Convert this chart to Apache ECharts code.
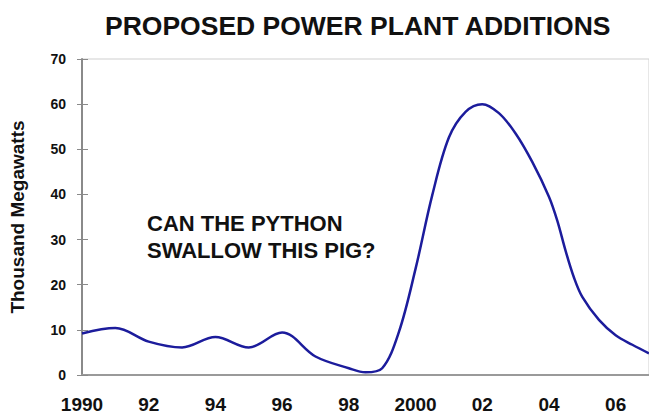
<!DOCTYPE html>
<html>
<head>
<meta charset="utf-8">
<script src="https://cdn.jsdelivr.net/npm/echarts@6/dist/echarts.min.js"></script>
<style>
html,body{margin:0;padding:0;background:#fff;}
#chart{width:649px;height:416px;}
</style>
</head>
<body>
<div id="chart"></div>
<script>
const titleText = 'PROPOSED POWER PLANT ADDITIONS';
const yAxisName = 'Thousand Megawatts';
const noteLines = ['CAN THE PYTHON', 'SWALLOW THIS PIG?'];
const years = [1990,1991,1992,1993,1994,1995,1996,1997,1998,1998.5,1999,1999.5,2000,2000.5,2001,2001.5,2002,2002.5,2003,2003.5,2004,2004.25,2004.5,2004.75,2005,2005.5,2006,2006.5,2007];
const megawatts = [9.2,10.4,7.4,6.1,8.4,6.1,9.4,4.1,1.5,0.6,1.5,9.5,23.5,39.8,52.6,58.3,60,58,53.5,47.2,39.5,34.2,27.5,21.6,17.3,12.2,8.8,6.7,4.8];
const yTicks = [0,10,20,30,40,50,60,70];

const chart = echarts.init(document.getElementById('chart'), null, {renderer:'svg'});
const font = '"Liberation Sans", Arial, sans-serif';
chart.setOption({
  animation:false,
  backgroundColor:'#fff',
  title:{
    text:titleText, left:100, top:7,
    textStyle:{fontFamily:font, fontSize:26.5, fontWeight:'bold', color:'#111'}
  },
  grid:{left:80, right:-5, top:59, bottom:41, show:true, borderColor:'#cfcfcf', borderWidth:1},
  xAxis:{
    type:'value', min:1990, max:2007, interval:2,
    axisLine:{show:true, onZero:false, lineStyle:{color:'#9a9a9a', width:2}},
    axisTick:{show:false},
    splitLine:{show:false},
    axisLabel:{
      margin:20, showMaxLabel:false,
      fontFamily:font, fontSize:19, fontWeight:'bold', color:'#111',
      formatter:v => (v===1990||v===2000) ? String(v) : String(v%100).padStart(2,'0')
    }
  },
  yAxis:[{
    type:'value', min:yTicks[0], max:yTicks[yTicks.length-1], interval:10,
    name:yAxisName, nameLocation:'middle', nameGap:55, nameRotate:90,
    nameTextStyle:{fontFamily:font, fontSize:19, fontWeight:'bold', color:'#111'},
    axisLine:{show:true, lineStyle:{color:'#8a8a8a', width:2}},
    axisTick:{show:true, length:5, lineStyle:{color:'#8a8a8a', width:1}},
    splitLine:{show:false},
    axisLabel:{margin:16, fontFamily:font, fontSize:14, fontWeight:'bold', color:'#111'}
  },{
    type:'value', min:yTicks[0], max:yTicks[yTicks.length-1], interval:10, position:'left',
    axisLine:{show:false},
    axisTick:{show:true, inside:true, length:6, lineStyle:{color:'#8a8a8a', width:1}},
    axisLabel:{show:false}, splitLine:{show:false}
  }],
  graphic:[{
    type:'text', left:147, top:210,
    style:{text:noteLines.join('\n'), fontFamily:font, fontSize:22, fontWeight:'bold', fill:'#111', lineHeight:27}
  }],
  series:[{
    type:'line', smooth:0.35, symbol:'none',
    data:years.map((y,i)=>[y, megawatts[i]]),
    lineStyle:{color:'#1c1c9c', width:2.5}
  }]
});
</script>
</body>
</html>
